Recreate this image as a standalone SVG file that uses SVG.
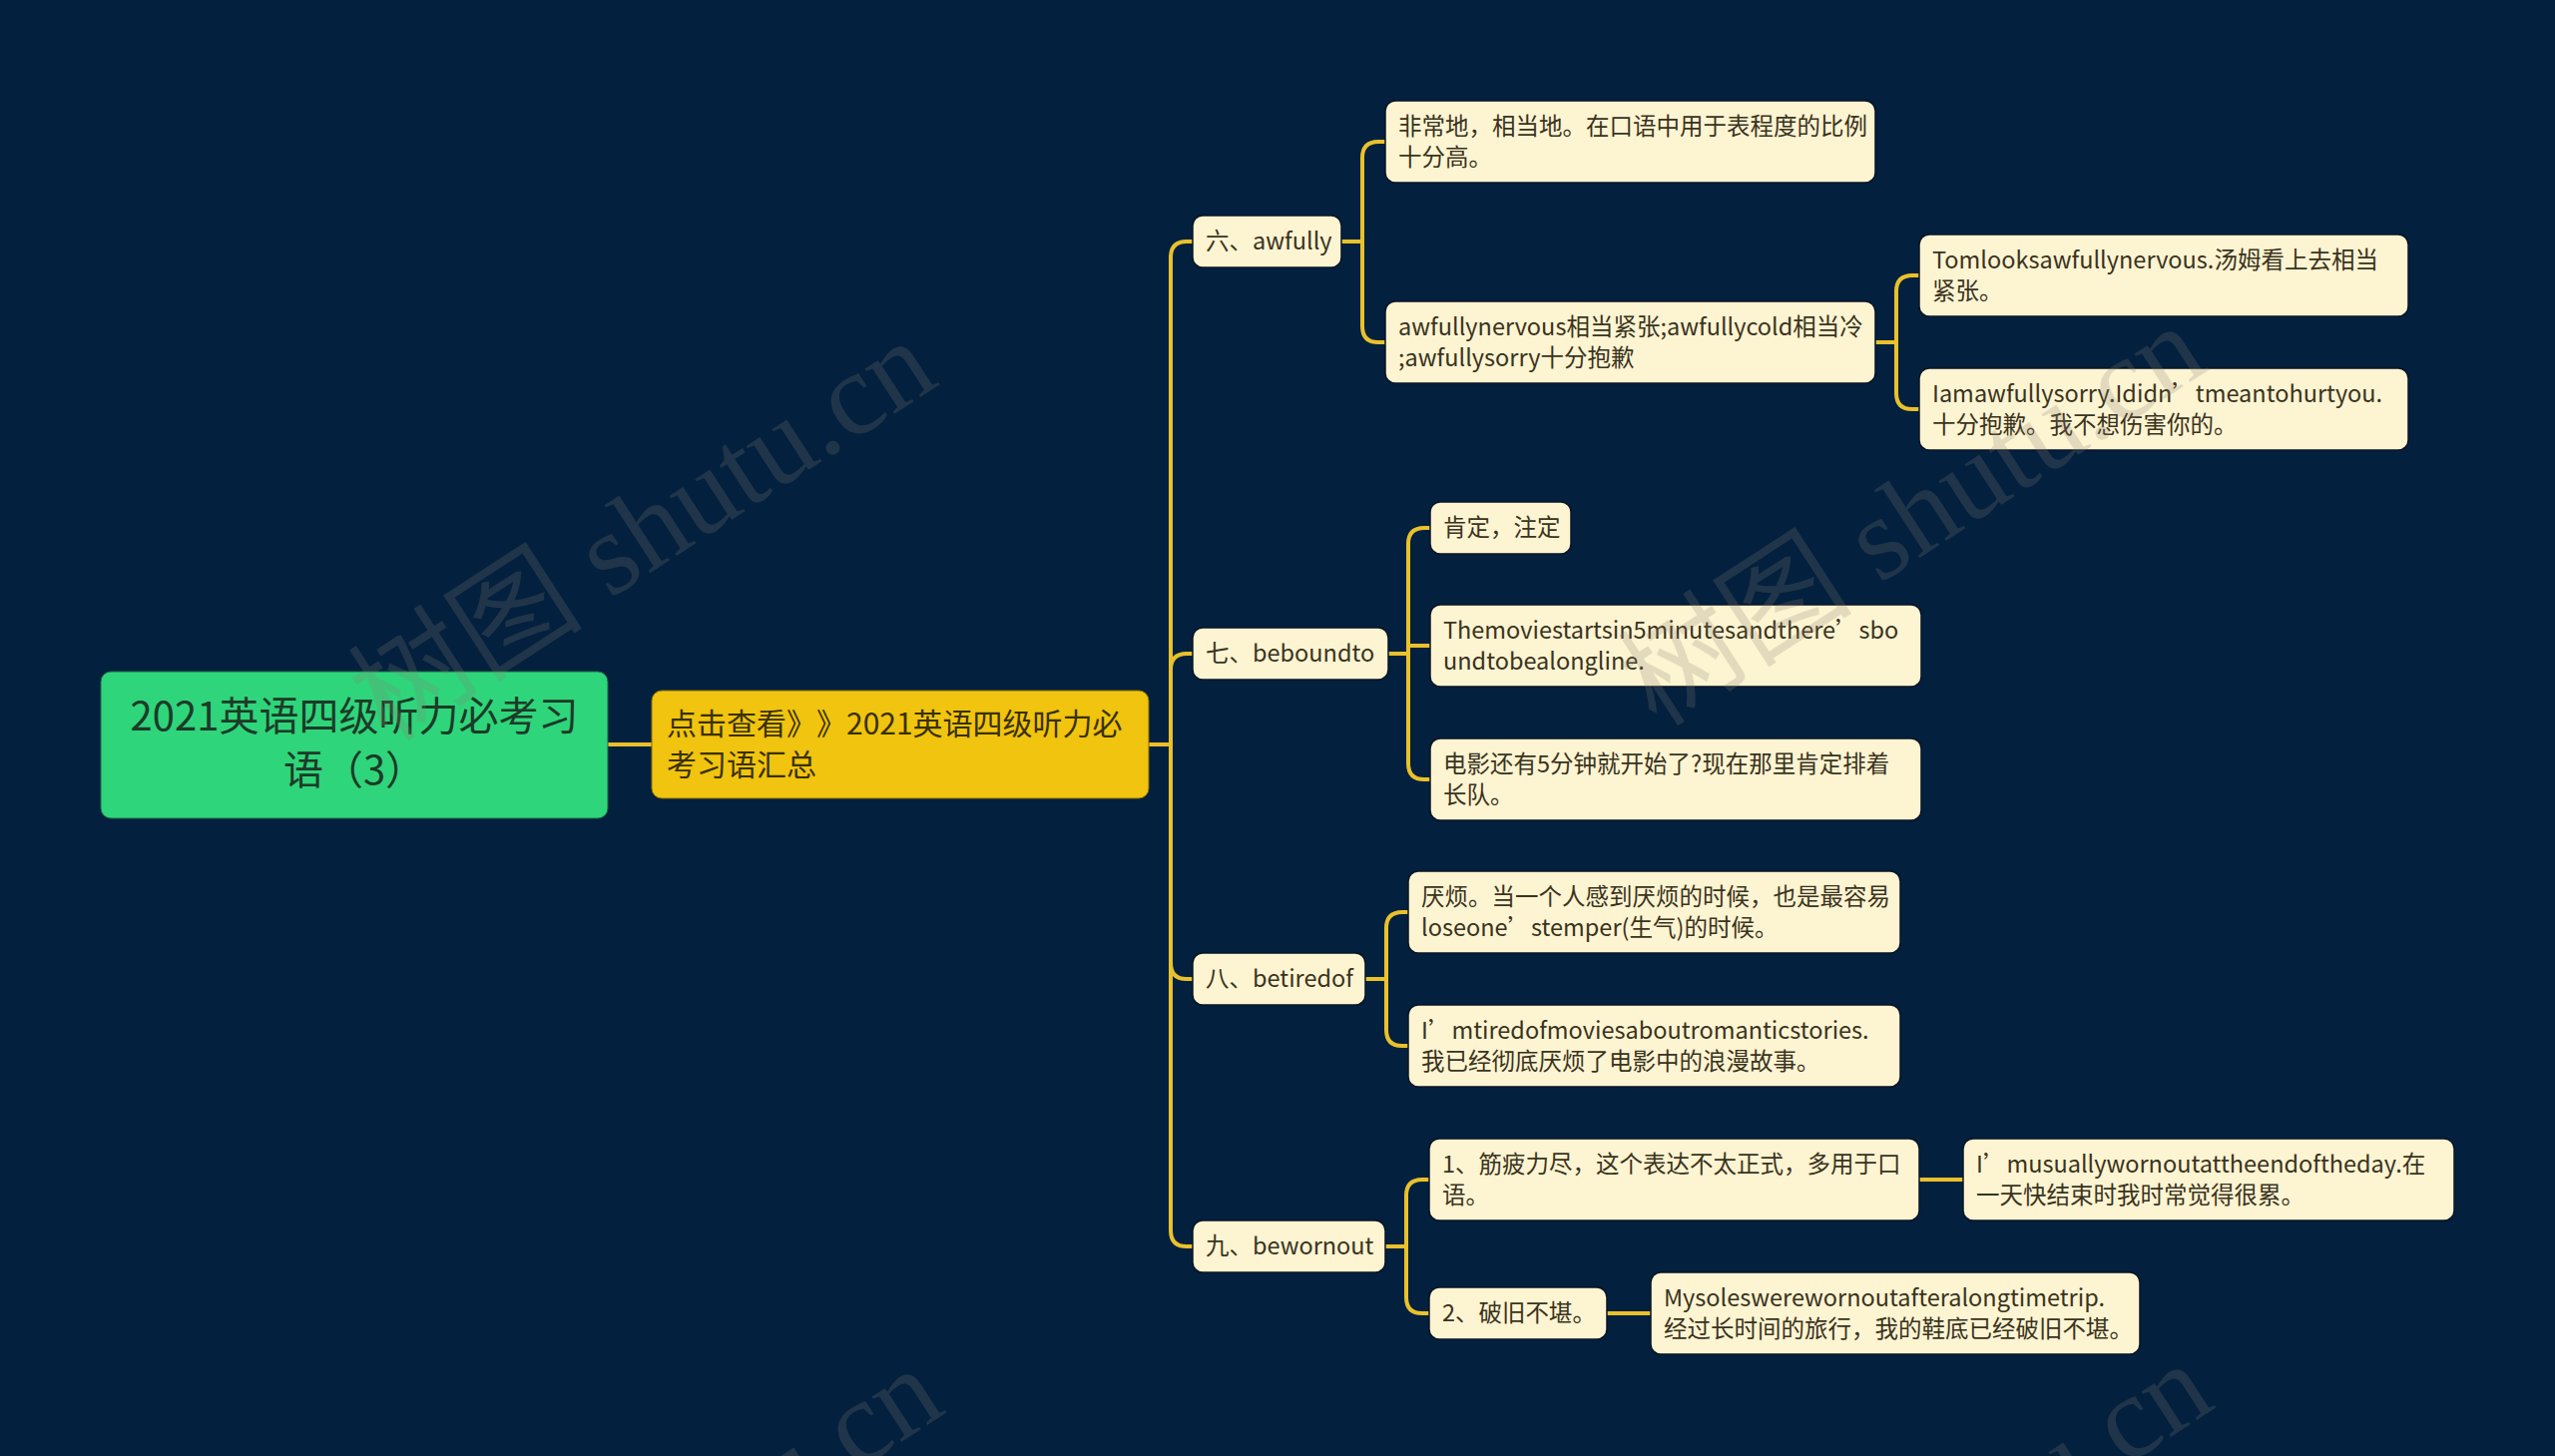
<svg xmlns="http://www.w3.org/2000/svg" width="2560" height="1459" viewBox="0 0 2560 1459">
<style>
.bg{fill:#03203e}
.root rect{fill:#2fd57a;stroke:#1b6a45;stroke-width:1}
.root text{font-family:"Noto Sans CJK SC","Noto Sans",sans-serif;font-size:40px;fill:#1d3a28;text-anchor:middle}
.l1 rect{fill:#f0c40f;stroke:#8a6d00;stroke-width:1}
.l1 text{font-family:"Noto Sans CJK SC","Noto Sans",sans-serif;font-size:30px;fill:#3a3000}
.n rect{fill:#fdf4d2;stroke:#0a1424;stroke-width:1.5}
.n text{font-family:"Noto Sans CJK SC","Noto Sans",sans-serif;font-size:23.5px;fill:#3a3320}
.links path{fill:none;stroke:#e9c12b;stroke-width:4;stroke-linecap:round}
.wm text{font-family:"Liberation Serif","Noto Sans CJK SC",serif;font-size:118px;fill:#8a8070;fill-opacity:0.22}
</style>
<rect class="bg" x="0" y="0" width="2560" height="1459"/>

<g class="links" id="connectors">
  <path d="M609 746 H653"/>
  <path d="M1151 746 H1173 V258 Q1173 242 1189 242 H1195"/>
  <path d="M1151 746 H1173 V671 Q1173 655 1189 655 H1195"/>
  <path d="M1151 746 H1173 V965 Q1173 981 1189 981 H1195"/>
  <path d="M1151 746 H1173 V1233 Q1173 1249 1189 1249 H1195"/>
  <path d="M1344 242 H1365 V158 Q1365 142 1381 142 H1388"/>
  <path d="M1344 242 H1365 V327 Q1365 343 1381 343 H1388"/>
  <path d="M1879 343 H1900 V292 Q1900 276 1916 276 H1923"/>
  <path d="M1879 343 H1900 V394 Q1900 410 1916 410 H1923"/>
  <path d="M1391 655 H1411 V545 Q1411 529 1427 529 H1433"/>
  <path d="M1391 655 H1411 V647 H1433"/>
  <path d="M1391 655 H1411 V765 Q1411 781 1427 781 H1433"/>
  <path d="M1368 981 H1389 V930 Q1389 914 1405 914 H1411"/>
  <path d="M1368 981 H1389 V1032 Q1389 1048 1405 1048 H1411"/>
  <path d="M1388 1249 H1409 V1198 Q1409 1182 1425 1182 H1432"/>
  <path d="M1388 1249 H1409 V1300 Q1409 1316 1425 1316 H1432"/>
  <path d="M1923 1182 H1967"/>
  <path d="M1610 1316 H1654"/>
</g>

<g class="root" id="root">
  <rect x="101" y="673" width="508" height="147" rx="10"/>
  <text x="355" y="732">2021英语四级听力必考习</text>
  <text x="355" y="786">语（3）</text>
</g>

<g class="l1" id="n-summary">
  <rect x="653" y="692" width="498" height="108" rx="10"/>
  <text y="736"><tspan x="668">点击查看</tspan><tspan x="788">》</tspan><tspan x="818">》</tspan><tspan x="848">2021英语四级听力必</tspan></text>
  <text x="668" y="777">考习语汇总</text>
</g>

<g class="n" id="n6">
  <rect x="1195" y="216" width="149" height="52" rx="10"/>
  <text x="1208" y="250">六、awfully</text>
</g>
<g class="n" id="n6a">
  <rect x="1388" y="101" width="491" height="82" rx="10"/>
  <text x="1401" y="135">非常地，相当地。在口语中用于表程度的比例</text>
  <text x="1401" y="166">十分高。</text>
</g>
<g class="n" id="n6b">
  <rect x="1388" y="302" width="491" height="82" rx="10"/>
  <text x="1401" y="336">awfullynervous相当紧张;awfullycold相当冷</text>
  <text x="1401" y="367">;awfullysorry十分抱歉</text>
</g>
<g class="n" id="n6b1">
  <rect x="1923" y="235" width="490" height="82" rx="10"/>
  <text x="1936" y="269">Tomlooksawfullynervous.汤姆看上去相当</text>
  <text x="1936" y="300">紧张。</text>
</g>
<g class="n" id="n6b2">
  <rect x="1923" y="369" width="490" height="82" rx="10"/>
  <text x="1936" y="403">Iamawfullysorry.Ididn’tmeantohurtyou.</text>
  <text x="1936" y="434">十分抱歉。我不想伤害你的。</text>
</g>

<g class="n" id="n7">
  <rect x="1195" y="629" width="196" height="52" rx="10"/>
  <text x="1208" y="663">七、beboundto</text>
</g>
<g class="n" id="n7a">
  <rect x="1433" y="503" width="141" height="52" rx="10"/>
  <text x="1446" y="537">肯定，注定</text>
</g>
<g class="n" id="n7b">
  <rect x="1433" y="606" width="492" height="82" rx="10"/>
  <text x="1446" y="640">Themoviestartsin5minutesandthere’sbo</text>
  <text x="1446" y="671">undtobealongline.</text>
</g>
<g class="n" id="n7c">
  <rect x="1433" y="740" width="492" height="82" rx="10"/>
  <text x="1446" y="774">电影还有5分钟就开始了?现在那里肯定排着</text>
  <text x="1446" y="805">长队。</text>
</g>

<g class="n" id="n8">
  <rect x="1195" y="955" width="173" height="52" rx="10"/>
  <text x="1208" y="989">八、betiredof</text>
</g>
<g class="n" id="n8a">
  <rect x="1411" y="873" width="493" height="82" rx="10"/>
  <text x="1424" y="907">厌烦。当一个人感到厌烦的时候，也是最容易</text>
  <text x="1424" y="938">loseone’stemper(生气)的时候。</text>
</g>
<g class="n" id="n8b">
  <rect x="1411" y="1007" width="493" height="82" rx="10"/>
  <text x="1424" y="1041">I’mtiredofmoviesaboutromanticstories.</text>
  <text x="1424" y="1072">我已经彻底厌烦了电影中的浪漫故事。</text>
</g>

<g class="n" id="n9">
  <rect x="1195" y="1223" width="193" height="52" rx="10"/>
  <text x="1208" y="1257">九、bewornout</text>
</g>
<g class="n" id="n9a">
  <rect x="1432" y="1141" width="491" height="82" rx="10"/>
  <text x="1445" y="1175">1、筋疲力尽，这个表达不太正式，多用于口</text>
  <text x="1445" y="1206">语。</text>
</g>
<g class="n" id="n9a1">
  <rect x="1967" y="1141" width="492" height="82" rx="10"/>
  <text x="1980" y="1175">I’musuallywornoutattheendoftheday.在</text>
  <text x="1980" y="1206">一天快结束时我时常觉得很累。</text>
</g>
<g class="n" id="n9b">
  <rect x="1432" y="1290" width="178" height="52" rx="10"/>
  <text x="1445" y="1324">2、破旧不堪。</text>
</g>
<g class="n" id="n9b1">
  <rect x="1654" y="1275" width="490" height="82" rx="10"/>
  <text x="1667" y="1309">Mysoleswerewornoutafteralongtimetrip.</text>
  <text x="1667" y="1340">经过长时间的旅行，我的鞋底已经破旧不堪。</text>
</g>

<g class="wm">
  <text transform="translate(388 745) rotate(-33)">树图 shutu.cn</text>
  <text transform="translate(1660 730) rotate(-33)">树图 shutu.cn</text>
  <text transform="translate(395 1775) rotate(-33)">树图 shutu.cn</text>
  <text transform="translate(1667 1770) rotate(-33)">树图 shutu.cn</text>
</g>
</svg>
